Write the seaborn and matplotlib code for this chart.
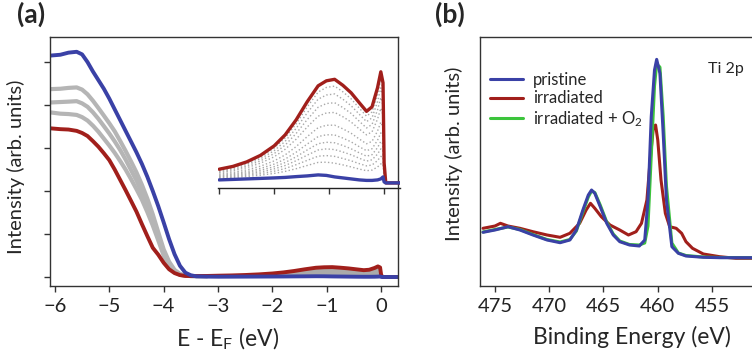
import matplotlib
matplotlib.use("Agg")
import matplotlib.pyplot as plt
import seaborn as sns

# ---------- panel (a): valence band, full range ----------
e_vb = [-6.09, -5.9, -5.75, -5.6, -5.5, -5.4, -5.3, -5.2, -5.1, -5.0, -4.9, -4.8, -4.7,
        -4.6, -4.5, -4.4, -4.3, -4.2, -4.1, -4.0, -3.9, -3.8, -3.7, -3.6, -3.5, -3.4, -3.2]
vb_pristine = [2318, 2327, 2349, 2358, 2331, 2250, 2151, 2061, 1971, 1868, 1755, 1643, 1530,
               1418, 1305, 1184, 1049, 900, 743, 572, 396, 239, 117, 45, 18, 7, 4]
vb_irradiated = [1557, 1548, 1544, 1530, 1508, 1476, 1422, 1364, 1296, 1224, 1125, 1017, 909,
                 797, 684, 554, 428, 306, 234, 149, 81, 41, 20, 11, 10, 10, 11]
vb_mid1 = [1967, 1971, 1980, 1985, 1962, 1913, 1845, 1769, 1690, 1610, 1525, 1425, 1320,
           1210, 1095, 965, 820, 655, 470, 290, 160, 75, 32, 16, 11, 9, 9]
vb_mid2 = [1827, 1832, 1836, 1841, 1818, 1782, 1724, 1656, 1580, 1503, 1420, 1330, 1230,
           1120, 1010, 885, 745, 590, 420, 255, 135, 63, 27, 14, 10, 9, 9]
vb_mid3 = [1724, 1710, 1706, 1697, 1674, 1638, 1584, 1521, 1449, 1377, 1300, 1215, 1125,
           1025, 920, 810, 680, 540, 385, 225, 117, 54, 23, 14, 10, 9, 9]

# ---------- panel (a): near E_F (inset) ----------
e_low = [-3.0, -2.75, -2.5, -2.25, -2.0, -1.8, -1.6, -1.4, -1.2, -1.05, -0.9,
         -0.75, -0.6, -0.45, -0.32, -0.22, -0.12, -0.06, -0.02, 0.0, 0.03, 0.3]
low_pristine = [3, 3.5, 4, 4.5, 5, 5.5, 6.3, 7, 8, 7.5, 6,
                5, 4, 3, 2.5, 2.5, 3, 4, 6, 1, 0, 0]
low_irradiated = [13.7, 16.5, 21, 27.5, 37, 48, 63, 81, 97, 102, 103.5,
                  97.5, 90, 80, 71.5, 76, 95, 111, 100, 20, 0, 0]
low_mid = [
    [13, 15.6, 19.8, 25.9, 34.8, 45, 59, 75.8, 90.8, 95.4, 96.7, 91, 84, 74.6, 66.7, 70.9, 88.6, 103.5, 93.4, 18.7, 0, 0],
    [12.1, 14.6, 18.5, 24.1, 32.2, 41.6, 54.5, 69.9, 83.7, 87.8, 88.9, 83.6, 77.1, 68.5, 61.2, 65, 81.2, 95, 85.9, 17.2, 0, 0],
    [11.1, 13.4, 16.9, 22, 29.3, 37.8, 49.4, 63.2, 75.6, 79.3, 80.1, 75.3, 69.4, 61.5, 54.9, 58.4, 72.9, 85.3, 77.4, 15.4, 0, 0],
    [10.1, 12.1, 15.2, 19.7, 26.1, 33.6, 43.7, 55.8, 66.7, 69.9, 70.4, 66.1, 60.8, 53.8, 48, 51, 63.7, 74.6, 68, 13.5, 0, 0],
    [8.7, 10.4, 13, 16.7, 22, 28, 36.3, 46.2, 55.2, 57.6, 57.7, 54, 49.6, 43.8, 39.1, 41.5, 51.8, 60.7, 55.8, 11.1, 0, 0],
    [7.6, 9.1, 11.3, 14.4, 18.8, 23.8, 30.7, 38.8, 46.3, 48.1, 47.9, 44.8, 41, 36.1, 32.2, 34.1, 42.6, 50, 46.4, 9.2, 0, 0],
    [6.7, 8.1, 10, 12.6, 16.2, 20.4, 26.1, 32.9, 39.2, 40.6, 40.1, 37.4, 34.1, 30, 26.7, 28.2, 35.2, 41.5, 38.9, 7.7, 0, 0],
    [6, 7.1, 8.8, 10.9, 14, 17.4, 22.2, 27.7, 32.9, 34, 33.3, 30.9, 28.1, 24.6, 21.8, 23.1, 28.8, 34, 32.3, 6.3, 0, 0],
    [5.2, 6.2, 7.6, 9.3, 11.7, 14.4, 18.2, 22.5, 26.7, 27.3, 26.5, 24.4, 22.1, 19.2, 17, 17.9, 22.3, 26.5, 25.7, 5, 0, 0],
    [4.5, 5.3, 6.4, 7.7, 9.5, 11.5, 14.2, 17.4, 20.5, 20.7, 19.7, 18, 16, 13.8, 12.2, 12.8, 15.9, 19, 19.2, 3.7, 0, 0],
]

# ---------- panel (b): Ti 2p ----------
be_ti = [476.1, 475.0, 473.8, 472.7, 471.5, 470.2, 469.0, 468.1, 467.5, 466.9, 466.4,
         466.1, 465.8, 465.3, 464.7, 464.1, 463.5, 462.6, 461.7, 461.2, 460.9, 460.6,
         460.3, 460.1, 459.8, 459.5, 459.2, 458.7, 458.1, 457.4, 455.8, 454.3, 451.2]
ti_pristine = [53.7, 56, 59.3, 56, 51, 46, 43.3, 46, 56, 76, 91,
               96, 92.7, 79.3, 62.7, 51, 44.3, 41, 40, 46, 86, 169.3,
               216, 226.7, 212.7, 152.7, 86, 39.3, 32.7, 30, 28.7, 28.3, 28.3]
ti_oxygen = [54, 56.5, 59, 56.5, 51.5, 46.5, 44, 46.5, 55, 74, 89,
             95, 93.5, 81, 64, 52, 45, 41.5, 41, 43, 60, 130,
             200, 222, 219, 170, 100, 43, 33, 30.5, 29, 28.5, 28.3]
be_irr = [476.1, 475.0, 474.5, 473.8, 472.7, 471.5, 470.2, 469.0, 468.1, 467.2, 466.6,
          466.2, 465.8, 465.2, 464.4, 463.5, 462.7, 462.0, 461.5, 461.0, 460.7, 460.4,
          460.2, 460.0, 459.7, 459.3, 458.9, 458.3, 457.8, 457.4, 456.8, 455.8, 454.3,
          452.8, 451.2]
ti_irradiated = [57.7, 60, 62.7, 60, 57.7, 54.3, 51, 48.7, 52.7, 62.7, 76,
                 82.7, 77.7, 69.3, 61, 56, 51, 54.3, 62.7, 86, 126, 159.3,
                 161, 146, 106, 72.7, 59.3, 57.7, 52.7, 44.3, 37.7, 32, 29.3,
                 27.7, 27.7]

BLUE = "#3a41a6"
RED = "#a11f1b"
GREEN = "#3cc43c"
GREY = "#b5b5b5"

sns.set_theme(style="ticks")
plt.rcParams["font.family"] = ["Lato", "DejaVu Sans"]
plt.rcParams["mathtext.fontset"] = "custom"
plt.rcParams["mathtext.rm"] = "Lato"
plt.rcParams["mathtext.it"] = "Lato:italic"
plt.rcParams["axes.edgecolor"] = "#333333"
plt.rcParams["axes.linewidth"] = 1.0
plt.rcParams["xtick.color"] = "#333333"
plt.rcParams["ytick.color"] = "#333333"
plt.rcParams["xtick.labelcolor"] = "#222222"

fig = plt.figure(figsize=(7.52, 3.6), dpi=100)

# ----- (a) main -----
ax = fig.add_axes([0.0665, 0.2056, 0.4628, 0.6914])
for g in (vb_mid1, vb_mid2, vb_mid3):
    sns.lineplot(x=e_vb, y=g, ax=ax, color=GREY, linewidth=3.0)
ax.fill_between(e_low, low_pristine, low_irradiated, color="#aaaaaa", lw=0)
sns.lineplot(x=e_vb + e_low, y=vb_irradiated + low_irradiated, ax=ax, color=RED, linewidth=2.8)
sns.lineplot(x=e_vb + e_low, y=vb_pristine + low_pristine, ax=ax, color=BLUE, linewidth=2.8)
ax.set_xlim(-6.09, 0.31)
ax.set_ylim(-94, 2512)
ax.set_xticks([-6, -5, -4, -3, -2, -1, 0])
ax.set_yticks([0, 450, 900, 1350, 1800, 2250])
ax.set_yticklabels([])
ax.tick_params(axis="both", direction="out", length=4, width=1, labelsize=14.5, pad=5)
ax.set_xlabel(r"E - E$_\mathrm{F}$ (eV)", fontsize=16.5)
ax.set_ylabel("Intensity (arb. units)", fontsize=14.5)
ax.xaxis.set_label_coords(0.51, -0.16)
ax.yaxis.set_label_coords(-0.072, 0.48)

# ----- (a) inset -----
ins = fig.add_axes([0.290, 0.478, 0.242, 0.342])
ins.patch.set_visible(False)
for g in low_mid:
    sns.lineplot(x=e_low, y=g, ax=ins, color="#a8a8a8", linewidth=1.0, linestyle=":")
sns.lineplot(x=e_low, y=low_irradiated, ax=ins, color=RED, linewidth=2.4)
sns.lineplot(x=e_low, y=low_pristine, ax=ins, color=BLUE, linewidth=2.4)
ins.set_xlim(-3.02, 0.29)
ins.set_ylim(-5, 118)
for s in ("top", "right", "left"):
    ins.spines[s].set_visible(False)
ins.spines["bottom"].set_color("#222222")
ins.set_xticks([-3, -2, -1, 0])
ins.set_xticklabels([])
ins.set_yticks([])
ins.tick_params(axis="x", direction="out", length=4, width=1)
ins.set_xlabel("")

# ----- (b) -----
bx = fig.add_axes([0.638, 0.2056, 0.367, 0.6914])
sns.lineplot(x=be_irr, y=ti_irradiated, ax=bx, color=RED, linewidth=2.2, label="irradiated")
sns.lineplot(x=be_ti, y=ti_oxygen, ax=bx, color=GREEN, linewidth=2.2, label=r"irradiated + O$_2$")
sns.lineplot(x=be_ti, y=ti_pristine, ax=bx, color=BLUE, linewidth=2.2, label="pristine")
bx.set_xlim(476.4, 450.97)
bx.set_ylim(0, 249)
bx.set_xticks([475, 470, 465, 460, 455])
bx.set_yticks([])
bx.tick_params(axis="x", direction="out", length=4, width=1, labelsize=14.5, pad=5)
bx.set_xlabel("Binding Energy (eV)", fontsize=16.5)
bx.set_ylabel("Intensity (arb. units)", fontsize=14.5)
bx.xaxis.set_label_coords(0.55, -0.16)
bx.yaxis.set_label_coords(-0.062, 0.53)
h, l = bx.get_legend_handles_labels()
order = [2, 0, 1]
bx.legend([h[i] for i in order], [l[i] for i in order], loc="upper left",
          bbox_to_anchor=(0.0, 0.9), frameon=False, fontsize=12,
          handlelength=2.0, handletextpad=0.6, labelspacing=0.15, borderaxespad=0.2)
bx.text(0.826, 0.87, "Ti 2p", transform=bx.transAxes, fontsize=11.5, va="center", ha="left")

fig.text(0.022, 0.995, "(a)", fontsize=19, fontweight="bold", va="top", ha="left")
fig.text(0.579, 0.995, "(b)", fontsize=19, fontweight="bold", va="top", ha="left")

fig.savefig("out.png", dpi=100)
